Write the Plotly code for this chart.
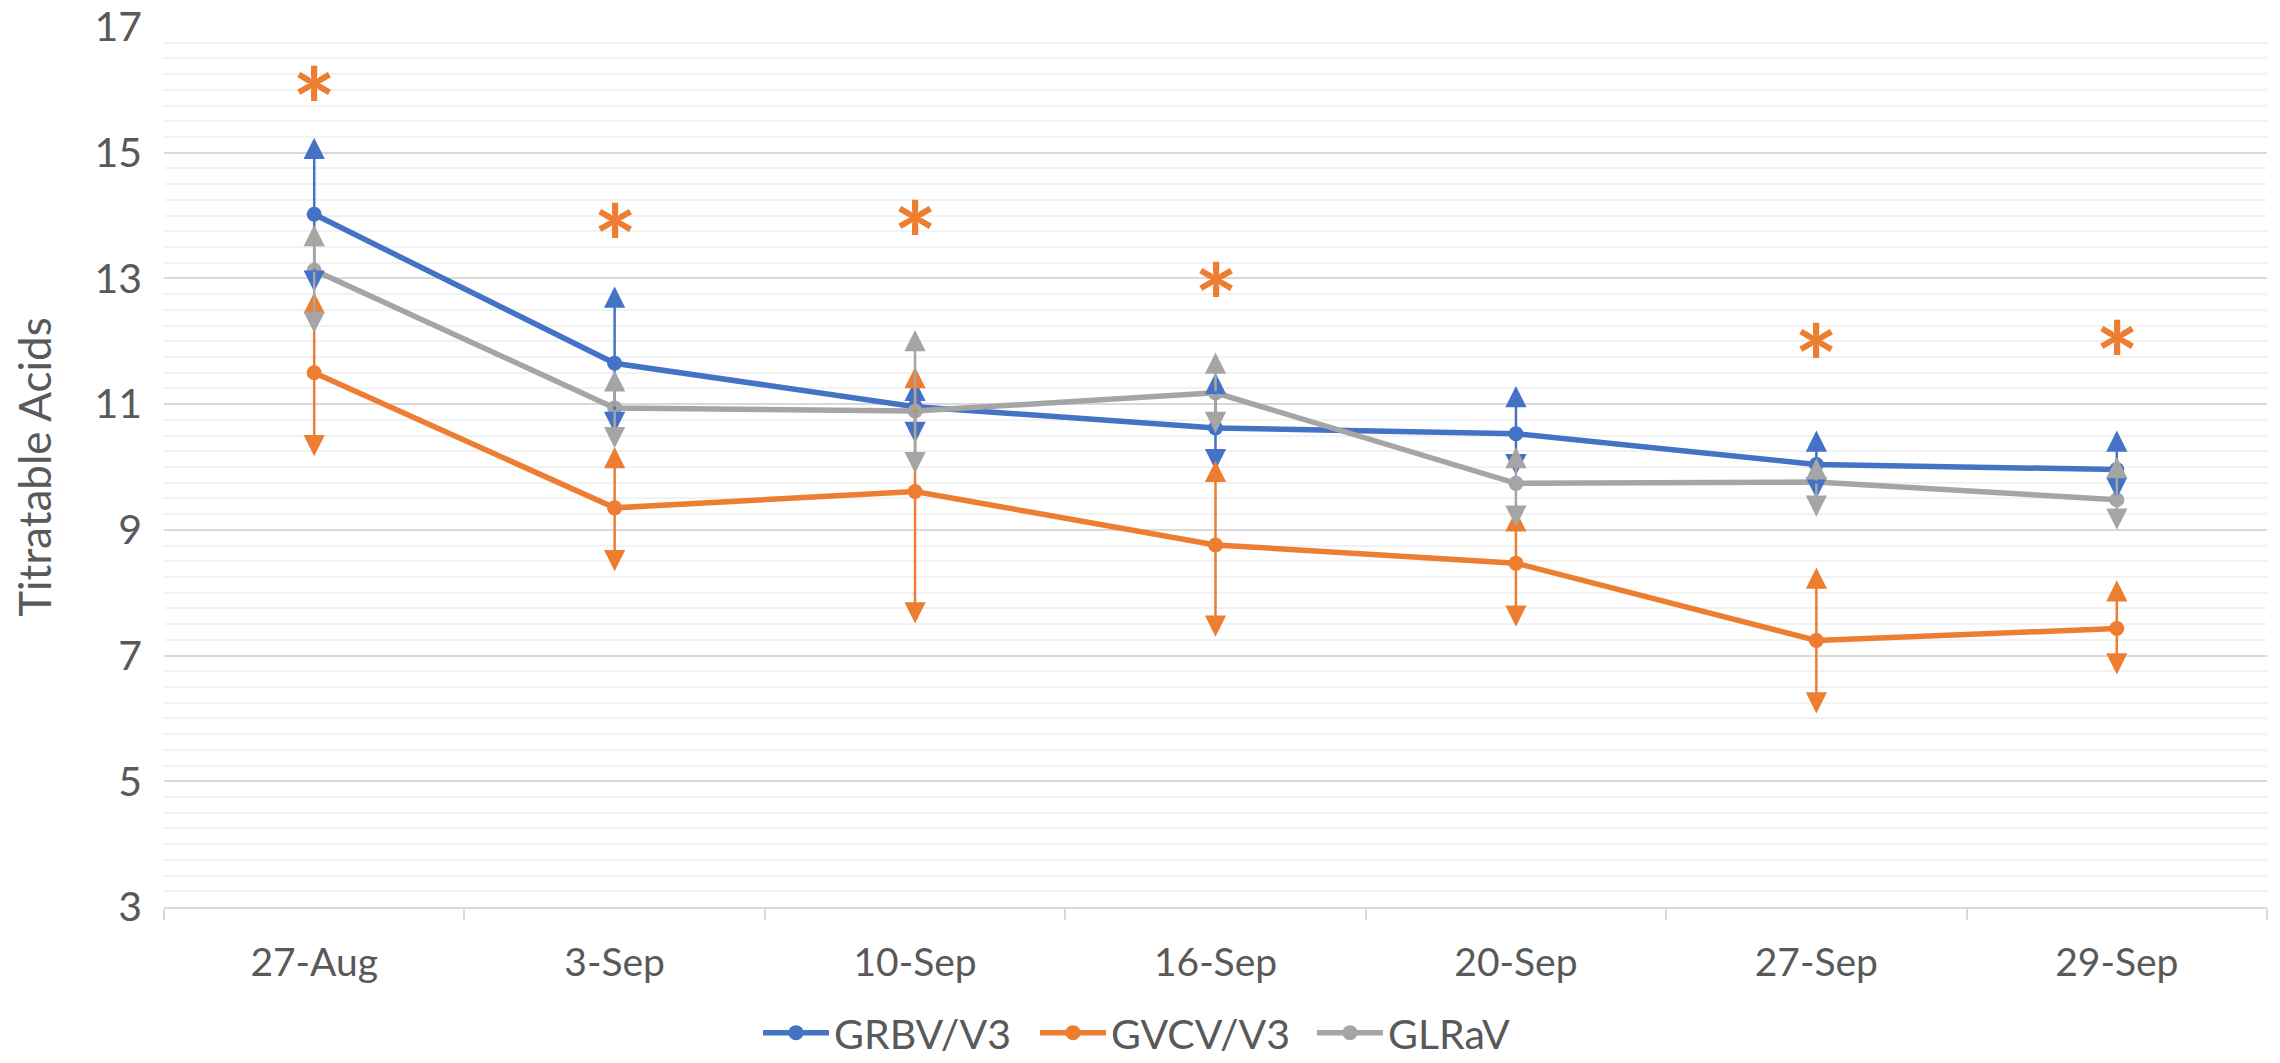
import plotly.graph_objects as go

categories = ["27-Aug", "3-Sep", "10-Sep", "16-Sep", "20-Sep", "27-Sep", "29-Sep"]

grbv = [14.02, 11.65, 10.96, 10.62, 10.53, 10.04, 9.96]
grbv_hi = [15.24, 12.87, 11.39, 11.50, 11.29, 10.58, 10.58]
grbv_lo = [12.79, 10.54, 10.38, 9.95, 9.87, 9.50, 9.50]

gvcv = [11.50, 9.35, 9.61, 8.76, 8.47, 7.24, 7.43]
gvcv_hi = [12.78, 10.32, 11.59, 10.10, 9.31, 8.40, 8.20]
gvcv_lo = [10.17, 8.34, 7.51, 7.30, 7.46, 6.08, 6.70]

glrav = [13.13, 10.94, 10.89, 11.18, 9.74, 9.76, 9.48]
glrav_hi = [13.85, 11.54, 12.18, 11.82, 10.32, 10.14, 10.16]
glrav_lo = [12.13, 10.30, 9.90, 10.54, 9.05, 9.21, 9.00]

sig_y = [16.08, 13.90, 13.95, 12.96, None, 11.99, 12.04]

series = [
    ("GRBV/V3", grbv, grbv_hi, grbv_lo, "#4472C4"),
    ("GVCV/V3", gvcv, gvcv_hi, gvcv_lo, "#ED7D31"),
    ("GLRaV", glrav, glrav_hi, glrav_lo, "#A5A5A5"),
]

FONT = "Lato, 'Open Sans', sans-serif"
TXT = "#595959"

# page body has an 8px default margin; the figure is sized to fit the window
W, H = 2264, 1047

fig = go.Figure()
annotations = []
for name, mean, hi, lo, color in series:
    fig.add_trace(go.Scatter(
        x=categories, y=mean, name=name, mode="lines+markers",
        line=dict(color=color, width=5.5),
        marker=dict(color=color, size=15),
    ))
    for c, m, h, l in zip(categories, mean, hi, lo):
        for end in (h, l):
            annotations.append(dict(
                x=c, y=end, ax=c, ay=m, xref="x", yref="y", axref="x", ayref="y",
                showarrow=True, arrowhead=2, arrowsize=1.7, arrowwidth=2.5,
                arrowcolor=color, text="",
            ))

for c, s in zip(categories, sig_y):
    if s is None:
        continue
    annotations.append(dict(
        x=c, y=s, xref="x", yref="y", text="*", showarrow=False,
        font=dict(family=FONT, size=104, color="#ED7D31", weight="bold"), yshift=-19,
    ))

fig.update_layout(
    width=W, height=H,
    margin=dict(l=156, r=5, t=19, b=148),
    plot_bgcolor="white", paper_bgcolor="white",
    font=dict(family=FONT, color=TXT, size=40),
    showlegend=True,
    legend=dict(
        orientation="h", x=750 / W, xanchor="left", xref="container",
        y=22 / H, yanchor="middle", yref="container",
        font=dict(size=41, color=TXT), itemwidth=66,
        entrywidth=196, entrywidthmode="pixels",
    ),
    annotations=annotations,
)

fig.update_xaxes(
    type="category", range=[-0.5, len(categories) - 0.5],
    tickson="boundaries", ticks="outside", ticklen=11,
    tickcolor="#D9D9D9", tickwidth=2,
    showline=True, linecolor="#D9D9D9", linewidth=2,
    showgrid=False, tickfont=dict(size=39, color=TXT),
    ticklabelstandoff=20, automargin=False,
)
fig.update_yaxes(
    range=[3, 17], dtick=2, tick0=3,
    showgrid=True, gridcolor="#D9D9D9", gridwidth=2,
    minor=dict(dtick=0.25, showgrid=True, gridcolor="#F2F2F2", gridwidth=2),
    zeroline=False, showline=False, ticks="",
    tickfont=dict(size=41, color=TXT),
    ticklabelstandoff=21, ticklabeloverflow="allow",
    title=dict(text="Titratable Acids", font=dict(size=44, color=TXT), standoff=60),
    automargin=False,
)

fig.write_html("out.html")
